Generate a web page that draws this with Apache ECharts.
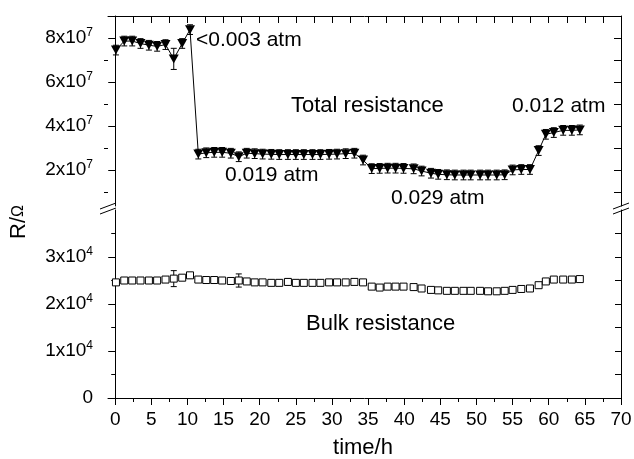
<!DOCTYPE html>
<html>
<head>
<meta charset="utf-8">
<script src="https://cdn.jsdelivr.net/npm/echarts@6/dist/echarts.min.js"></script>
<style>
  html, body { margin: 0; padding: 0; background: #fff; }
  #chart { width: 634px; height: 459px; }
</style>
</head>
<body>
<div id="chart"></div>
<script>
// Measurement times (h)
const timeH = [
  0.1, 1.25, 2.35, 3.5, 4.66, 5.8, 6.96, 8.1, 9.27, 10.35,
  11.5, 12.6, 13.7, 14.8, 16.0, 17.1, 18.2, 19.3, 20.4, 21.6,
  22.7, 23.9, 25.0, 26.1, 27.3, 28.4, 29.6, 30.7, 31.9, 33.1,
  34.3, 35.5, 36.6, 37.7, 38.8, 39.9, 41.3, 42.4, 43.7, 44.7,
  45.9, 47.0, 48.2, 49.2, 50.5, 51.6, 52.8, 53.9, 55.0, 56.2,
  57.4, 58.6, 59.6, 60.7, 62.0, 63.2, 64.3
];

// Total resistance (Ohm) and its error
const totalR = [
  7.45e7, 7.86e7, 7.86e7, 7.75e7, 7.67e7, 7.62e7, 7.70e7, 7.05e7, 7.75e7, 8.38e7,
  2.72e7, 2.78e7, 2.80e7, 2.80e7, 2.76e7, 2.60e7, 2.76e7, 2.74e7, 2.72e7, 2.71e7,
  2.70e7, 2.70e7, 2.70e7, 2.70e7, 2.70e7, 2.70e7, 2.71e7, 2.72e7, 2.74e7, 2.76e7,
  2.45e7, 2.06e7, 2.07e7, 2.08e7, 2.08e7, 2.07e7, 2.05e7, 1.95e7, 1.85e7, 1.80e7,
  1.78e7, 1.77e7, 1.77e7, 1.77e7, 1.77e7, 1.77e7, 1.77e7, 1.78e7, 2.00e7, 2.02e7,
  2.02e7, 2.88e7, 3.62e7, 3.70e7, 3.80e7, 3.80e7, 3.82e7
];
const totalErr = [
  0.22e7, 0.22e7, 0.22e7, 0.22e7, 0.22e7, 0.22e7, 0.22e7, 0.48e7, 0.22e7, 0.22e7,
  0.22e7, 0.22e7, 0.22e7, 0.22e7, 0.22e7, 0.22e7, 0.22e7, 0.22e7, 0.22e7, 0.22e7,
  0.22e7, 0.22e7, 0.22e7, 0.22e7, 0.22e7, 0.22e7, 0.22e7, 0.22e7, 0.22e7, 0.22e7,
  0.22e7, 0.22e7, 0.22e7, 0.22e7, 0.22e7, 0.22e7, 0.22e7, 0.22e7, 0.22e7, 0.22e7,
  0.22e7, 0.22e7, 0.22e7, 0.22e7, 0.22e7, 0.22e7, 0.22e7, 0.22e7, 0.22e7, 0.22e7,
  0.22e7, 0.22e7, 0.22e7, 0.22e7, 0.22e7, 0.22e7, 0.22e7
];

// Bulk resistance (Ohm) and its error
const bulkR = [
  2.46e4, 2.50e4, 2.50e4, 2.50e4, 2.50e4, 2.50e4, 2.52e4, 2.54e4, 2.56e4, 2.61e4,
  2.52e4, 2.51e4, 2.51e4, 2.50e4, 2.49e4, 2.50e4, 2.48e4, 2.46e4, 2.46e4, 2.45e4,
  2.45e4, 2.47e4, 2.45e4, 2.45e4, 2.45e4, 2.45e4, 2.46e4, 2.46e4, 2.46e4, 2.47e4,
  2.46e4, 2.37e4, 2.35e4, 2.37e4, 2.37e4, 2.37e4, 2.36e4, 2.33e4, 2.30e4, 2.29e4,
  2.28e4, 2.28e4, 2.28e4, 2.28e4, 2.28e4, 2.27e4, 2.27e4, 2.28e4, 2.30e4, 2.32e4,
  2.33e4, 2.40e4, 2.48e4, 2.52e4, 2.52e4, 2.52e4, 2.53e4
];
const bulkErr = [
  0.03e4, 0, 0, 0, 0, 0, 0, 0.17e4, 0, 0.06e4,
  0, 0, 0, 0, 0, 0.14e4, 0, 0, 0, 0,
  0, 0.07e4, 0, 0, 0, 0, 0, 0, 0, 0,
  0.03e4, 0, 0, 0, 0, 0, 0, 0, 0, 0,
  0, 0, 0, 0, 0, 0, 0, 0, 0, 0,
  0, 0, 0, 0, 0, 0, 0
];

// Axis ticks and labels
const xLabelTicks = [0, 5, 10, 15, 20, 25, 30, 35, 40, 45, 50, 55, 60, 65, 70];
const xMinorTicks = [2.5, 7.5, 12.5, 17.5, 22.5, 27.5, 32.5, 37.5, 42.5, 47.5, 52.5, 57.5, 62.5, 67.5];
const totalLabelTicks = [2e7, 4e7, 6e7, 8e7];
const totalMinorTicks = [1e7, 3e7, 5e7, 7e7];
const bulkLabelTicks = [0, 1e4, 2e4, 3e4];
const bulkMinorTicks = [0.5e4, 1.5e4, 2.5e4, 3.5e4];

const FONT = '"Liberation Sans", Arial, Helvetica, sans-serif';

const totalPts = timeH.map((t, i) => [t, totalR[i]]);
const totalBars = timeH.map((t, i) => [t, totalR[i] - totalErr[i], totalR[i] + totalErr[i]]);
const bulkPts = timeH.map((t, i) => [t, bulkR[i]]);
const bulkBars = timeH.map((t, i) => [t, bulkR[i] - bulkErr[i], bulkR[i] + bulkErr[i]])
  .filter((d, i) => bulkErr[i] > 0);

// "8x10^7" style labels, with the exponent raised
function sciLabel(v) {
  if (v === 0) return '{m|0}';
  const e = Math.floor(Math.log10(v) + 1e-9);
  const m = Math.round(v / Math.pow(10, e));
  return '{m|' + m + 'x10}{e|' + e + '}';
}
const sciRich = {
  m: { fontSize: 19, fontFamily: FONT, color: '#000', lineHeight: 22 },
  e: { fontSize: 12, fontFamily: FONT, color: '#000', lineHeight: 12, verticalAlign: 'top' }
};

function errorBar(params, api) {
  const x = api.value(0);
  const lo = api.coord([x, api.value(1)]);
  const hi = api.coord([x, api.value(2)]);
  const w = 3;
  const st = { stroke: '#000', lineWidth: 1 };
  return {
    type: 'group',
    children: [
      { type: 'line', shape: { x1: lo[0], y1: lo[1], x2: hi[0], y2: hi[1] }, style: st },
      { type: 'line', shape: { x1: lo[0] - w, y1: lo[1], x2: lo[0] + w, y2: lo[1] }, style: st },
      { type: 'line', shape: { x1: hi[0] - w, y1: hi[1], x2: hi[0] + w, y2: hi[1] }, style: st }
    ]
  };
}

const axisLineStyle = { color: '#000', width: 1 };
const noLabel = { show: false };
const noSplit = { show: false };

const option = {
  backgroundColor: '#fff',
  animation: false,
  grid: [
    { left: 108, right: 13, top: 16, height: 190, containLabel: false, outerBoundsMode: 'none' },
    { left: 108, right: 13, top: 210, height: 188, containLabel: false, outerBoundsMode: 'none' }
  ],
  xAxis: [
    { // top frame line with inward ticks
      type: 'value', gridIndex: 0, position: 'top', min: -1, max: 70,
      axisLine: { show: true, lineStyle: axisLineStyle },
      axisTick: { show: true, inside: true, length: 7, lineStyle: axisLineStyle,
        customValues: xLabelTicks.concat(xMinorTicks) },
      axisLabel: noLabel, splitLine: noSplit
    },
    { // time axis
      type: 'value', gridIndex: 1, position: 'bottom', min: -1, max: 70,
      axisLine: { show: true, lineStyle: axisLineStyle },
      axisTick: { show: true, inside: false, length: 7, lineStyle: axisLineStyle, customValues: xLabelTicks },
      axisLabel: { show: true, customValues: xLabelTicks, margin: 12, fontSize: 19, fontFamily: FONT, color: '#000' },
      splitLine: noSplit
    },
    { // minor ticks on time axis
      type: 'value', gridIndex: 1, position: 'bottom', min: -1, max: 70,
      axisLine: { show: false },
      axisTick: { show: true, inside: false, length: 4, lineStyle: axisLineStyle, customValues: xMinorTicks },
      axisLabel: noLabel, splitLine: noSplit
    }
  ],
  yAxis: [
    { // total resistance
      type: 'value', gridIndex: 0, position: 'left', min: 3.6e6, max: 9e7,
      axisLine: { show: true, lineStyle: axisLineStyle },
      axisTick: { show: true, inside: false, length: 7, lineStyle: axisLineStyle, customValues: totalLabelTicks },
      axisLabel: { show: true, customValues: totalLabelTicks, margin: 15, formatter: sciLabel, rich: sciRich },
      splitLine: noSplit
    },
    {
      type: 'value', gridIndex: 0, position: 'left', min: 3.6e6, max: 9e7,
      axisLine: { show: false },
      axisTick: { show: true, inside: false, length: 4, lineStyle: axisLineStyle, customValues: totalMinorTicks },
      axisLabel: noLabel, splitLine: noSplit
    },
    {
      type: 'value', gridIndex: 0, position: 'right', min: 3.6e6, max: 9e7,
      axisLine: { show: true, lineStyle: axisLineStyle },
      axisTick: { show: true, inside: true, length: 7, lineStyle: axisLineStyle,
        customValues: totalLabelTicks.concat(totalMinorTicks) },
      axisLabel: noLabel, splitLine: noSplit
    },
    { // bulk resistance
      type: 'value', gridIndex: 1, position: 'left', min: 0, max: 4e4,
      axisLine: { show: true, lineStyle: axisLineStyle },
      axisTick: { show: true, inside: false, length: 7, lineStyle: axisLineStyle, customValues: bulkLabelTicks },
      axisLabel: { show: true, customValues: bulkLabelTicks, margin: 15, formatter: sciLabel, rich: sciRich },
      splitLine: noSplit
    },
    {
      type: 'value', gridIndex: 1, position: 'left', min: 0, max: 4e4,
      axisLine: { show: false },
      axisTick: { show: true, inside: false, length: 4, lineStyle: axisLineStyle, customValues: bulkMinorTicks },
      axisLabel: noLabel, splitLine: noSplit
    },
    {
      type: 'value', gridIndex: 1, position: 'right', min: 0, max: 4e4,
      axisLine: { show: true, lineStyle: axisLineStyle },
      axisTick: { show: true, inside: true, length: 6, lineStyle: axisLineStyle,
        customValues: bulkMinorTicks.concat(bulkLabelTicks.slice(1)) },
      axisLabel: noLabel, splitLine: noSplit
    }
  ],
  series: [
    {
      type: 'custom', xAxisIndex: 0, yAxisIndex: 0, data: totalBars,
      renderItem: errorBar, encode: { x: 0, y: [1, 2] }, z: 2, silent: true
    },
    {
      type: 'line', xAxisIndex: 0, yAxisIndex: 0, data: totalPts,
      symbol: 'triangle', symbolRotate: 180, symbolSize: [10, 9],
      itemStyle: { color: '#000', borderWidth: 0 },
      lineStyle: { color: '#000', width: 1 }, z: 3, silent: true
    },
    {
      type: 'custom', xAxisIndex: 1, yAxisIndex: 3, data: bulkBars,
      renderItem: errorBar, encode: { x: 0, y: [1, 2] }, z: 2, silent: true
    },
    {
      type: 'scatter', xAxisIndex: 1, yAxisIndex: 3, data: bulkPts,
      symbol: 'rect', symbolSize: 7,
      itemStyle: { color: '#fff', borderColor: '#000', borderWidth: 1, opacity: 1 },
      z: 3, silent: true
    }
  ],
  graphic: [
    // axis break marks
    { type: 'line', shape: { x1: 100, y1: 209, x2: 116, y2: 203 }, style: { stroke: '#000', lineWidth: 1 } },
    { type: 'line', shape: { x1: 100, y1: 214, x2: 116, y2: 208 }, style: { stroke: '#000', lineWidth: 1 } },
    { type: 'line', shape: { x1: 613, y1: 209, x2: 629, y2: 203 }, style: { stroke: '#000', lineWidth: 1 } },
    { type: 'line', shape: { x1: 613, y1: 214, x2: 629, y2: 208 }, style: { stroke: '#000', lineWidth: 1 } },
    // axis titles
    { type: 'text', x: 19, y: 222, rotation: Math.PI / 2,
      style: { text: '{a|R/}{b|Ω}', align: 'center', verticalAlign: 'middle',
        rich: { a: { fontSize: 22, fontFamily: FONT, fill: '#000' }, b: { fontSize: 16, fontFamily: FONT, fill: '#000' } } } },
    { type: 'text', x: 363, y: 448,
      style: { text: 'time/h', fontSize: 22, fontFamily: FONT, fill: '#000', align: 'center', verticalAlign: 'middle' } },
    // annotations
    { type: 'text', x: 196, y: 40,
      style: { text: '<0.003 atm', fontSize: 21, fontFamily: FONT, fill: '#000', align: 'left', verticalAlign: 'middle' } },
    { type: 'text', x: 291, y: 106,
      style: { text: 'Total resistance', fontSize: 22, fontFamily: FONT, fill: '#000', align: 'left', verticalAlign: 'middle' } },
    { type: 'text', x: 512, y: 106,
      style: { text: '0.012 atm', fontSize: 21, fontFamily: FONT, fill: '#000', align: 'left', verticalAlign: 'middle' } },
    { type: 'text', x: 225, y: 175,
      style: { text: '0.019 atm', fontSize: 21, fontFamily: FONT, fill: '#000', align: 'left', verticalAlign: 'middle' } },
    { type: 'text', x: 391, y: 198,
      style: { text: '0.029 atm', fontSize: 21, fontFamily: FONT, fill: '#000', align: 'left', verticalAlign: 'middle' } },
    { type: 'text', x: 306, y: 324,
      style: { text: 'Bulk resistance', fontSize: 22, fontFamily: FONT, fill: '#000', align: 'left', verticalAlign: 'middle' } }
  ]
};

const chart = echarts.init(document.getElementById('chart'), null, { renderer: 'canvas' });
chart.setOption(option);
</script>
</body>
</html>
